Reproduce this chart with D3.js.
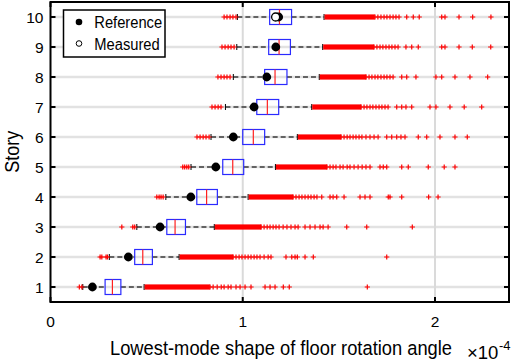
<!DOCTYPE html>
<html>
<head>
<meta charset="utf-8">
<script src="https://cdn.jsdelivr.net/npm/d3@7/dist/d3.min.js"></script>
<style>
html,body{margin:0;padding:0;background:#fff;}
svg{display:block;font-family:"Liberation Sans",Arial,sans-serif;}
</style>
</head>
<body>
<svg id="chart" width="517" height="363"></svg>
<script>
// ---- data (values in units of 1e-4) ----
const stories = [1, 2, 3, 4, 5, 6, 7, 8, 9, 10];
const q1      = [0.284, 0.438, 0.605, 0.761, 0.896, 1.000, 1.073, 1.114, 1.135, 1.140];
const medians = [0.322, 0.480, 0.648, 0.812, 0.948, 1.055, 1.128, 1.168, 1.189, 1.191];
const q3      = [0.366, 0.530, 0.702, 0.868, 1.005, 1.114, 1.187, 1.230, 1.248, 1.254];
const whiskerLow  = [0.168, 0.306, 0.449, 0.600, 0.731, 0.835, 0.910, 0.951, 0.969, 0.972];
const whiskerHigh = [0.487, 0.669, 0.852, 1.028, 1.170, 1.284, 1.359, 1.398, 1.416, 1.423];
// end of the solid band of overlapping outliers above the upper whisker
const denseEnd    = [0.813, 0.934, 1.081, 1.246, 1.423, 1.497, 1.601, 1.627, 1.667, 1.671];
const referenceValues = [0.218, 0.405, 0.570, 0.730, 0.860, 0.951, 1.059, 1.125, 1.172, 1.187];
const measuredStories = [10];
const measuredValues  = [1.171];
const lowOutliers = [
  [0.150, 0.163],
  [0.258, 0.267, 0.289, 0.296],
  [0.371, 0.428, 0.438],
  [0.553, 0.565, 0.575, 0.586],
  [0.688, 0.698, 0.709, 0.719],
  [0.762, 0.778, 0.794, 0.809, 0.825],
  [0.840, 0.856, 0.872, 0.887],
  [0.871, 0.887, 0.903, 0.918, 0.934],
  [0.892, 0.908, 0.924, 0.939, 0.955],
  [0.903, 0.918, 0.934, 0.949, 0.965]
];
const highOutliers = [
  [0.830, 0.846, 0.867, 0.888, 0.903, 0.924, 0.939, 0.965, 0.986, 1.012, 1.043, 1.116, 1.142, 1.168, 1.211, 1.242, 1.648],
  [0.950, 0.965, 0.981, 0.996, 1.012, 1.028, 1.043, 1.059, 1.074, 1.090, 1.111, 1.132, 1.147, 1.225, 1.255, 1.272, 1.284, 1.324, 1.367, 1.749],
  [1.095, 1.111, 1.127, 1.142, 1.158, 1.173, 1.189, 1.210, 1.230, 1.251, 1.272, 1.288, 1.324, 1.350, 1.376, 1.402, 1.418, 1.444, 1.541, 1.645, 1.882],
  [1.262, 1.277, 1.293, 1.308, 1.324, 1.340, 1.355, 1.371, 1.386, 1.411, 1.454, 1.470, 1.489, 1.527, 1.610, 1.636, 1.662, 1.757, 1.766, 1.827, 1.967, 2.016],
  [1.438, 1.454, 1.470, 1.485, 1.506, 1.522, 1.543, 1.558, 1.579, 1.600, 1.621, 1.641, 1.662, 1.714, 1.731, 1.749, 1.827, 1.861, 1.965, 2.048, 2.104],
  [1.511, 1.527, 1.543, 1.558, 1.574, 1.589, 1.605, 1.620, 1.641, 1.662, 1.683, 1.704, 1.749, 1.775, 1.801, 1.823, 1.844, 1.913, 1.957, 2.026, 2.104, 2.168],
  [1.615, 1.631, 1.646, 1.662, 1.677, 1.693, 1.709, 1.724, 1.740, 1.756, 1.801, 1.827, 1.849, 1.879, 1.974, 2.005, 2.078, 2.152, 2.243],
  [1.641, 1.657, 1.672, 1.688, 1.703, 1.719, 1.735, 1.750, 1.766, 1.782, 1.827, 1.853, 1.901, 2.005, 2.035, 2.104, 2.182, 2.274],
  [1.683, 1.698, 1.714, 1.729, 1.745, 1.761, 1.776, 1.792, 1.808, 1.849, 1.879, 1.913, 2.035, 2.052, 2.125, 2.194, 2.290],
  [1.688, 1.703, 1.719, 1.735, 1.750, 1.766, 1.782, 1.797, 1.813, 1.853, 1.887, 1.918, 2.035, 2.052, 2.125, 2.196, 2.291]
];
const xTicks = [0, 1, 2];
const xTickLabels = ["0", "1", "2"];
const xLabel = "Lowest-mode shape of floor rotation angle";
const xScaleBase = "\u00d710";
const xScaleExp = "-4";
const yLabel = "Story";
const legendLabels = ["Reference", "Measured"];

// ---- drawing ----
const svg = d3.select("#chart");
svg.append("rect").attr("width", 517).attr("height", 363).attr("fill", "#fff");

const x = d3.scaleLinear().domain([0, 2.385]).range([50.5, 509]);
const y = d3.scaleLinear().domain([0.5, 10.5]).range([302, 2]);
const [x0, x1] = x.range();
const [yb, yt] = y.range();
const halfBox = (y(0) - y(0.25));
const arm = 2.6;

const g = svg.append("g");

// grid
g.selectAll("line.hgrid").data(stories).join("line")
  .attr("x1", x0).attr("x2", x1)
  .attr("y1", d => y(d)).attr("y2", d => y(d))
  .attr("stroke", "#e2e2e2").attr("stroke-width", 2.5);
g.selectAll("line.vgrid").data(xTicks.filter(t => t > 0)).join("line")
  .attr("x1", d => x(d)).attr("x2", d => x(d))
  .attr("y1", yt).attr("y2", yb)
  .attr("stroke", "#dadada").attr("stroke-width", 2);

const rows = stories.map((s, i) => ({
  s, q1: q1[i], med: medians[i], q3: q3[i], lo: whiskerLow[i], hi: whiskerHigh[i],
  dense: denseEnd[i], ref: referenceValues[i], lowOut: lowOutliers[i], highOut: highOutliers[i]
}));

const row = g.selectAll("g.row").data(rows).join("g").attr("class", "row");

// whiskers (dashed)
row.append("line")
  .attr("x1", d => x(d.lo)).attr("x2", d => x(d.q1))
  .attr("y1", d => y(d.s)).attr("y2", d => y(d.s))
  .attr("stroke", "#3a3a3a").attr("stroke-width", 1.3).attr("stroke-dasharray", "5,3");
row.append("line")
  .attr("x1", d => x(d.q3)).attr("x2", d => x(d.hi))
  .attr("y1", d => y(d.s)).attr("y2", d => y(d.s))
  .attr("stroke", "#3a3a3a").attr("stroke-width", 1.3).attr("stroke-dasharray", "5,3");
// whisker caps
row.selectAll("line.cap").data(d => [d.lo, d.hi].map(v => ({v, s: d.s}))).join("line")
  .attr("x1", d => x(d.v)).attr("x2", d => x(d.v))
  .attr("y1", d => y(d.s) - 3).attr("y2", d => y(d.s) + 3)
  .attr("stroke", "#000").attr("stroke-width", 1);

// dense outlier band
row.append("rect")
  .attr("x", d => x(d.hi) + 0.5)
  .attr("width", d => x(d.dense) - x(d.hi) + arm)
  .attr("y", d => y(d.s) - arm).attr("height", 2 * arm)
  .attr("fill", "#ff0000");

// outlier crosses
const crossPath = (cx, cy) => `M${cx - arm},${cy}H${cx + arm}M${cx},${cy - arm}V${cy + arm}`;
row.selectAll("path.out").data(d => d.lowOut.concat(d.highOut).map(v => ({v, s: d.s}))).join("path")
  .attr("d", d => crossPath(x(d.v), y(d.s)))
  .attr("stroke", "#ff0000").attr("stroke-width", 1.2).attr("fill", "none");

// boxes
row.append("rect")
  .attr("x", d => x(d.q1)).attr("width", d => x(d.q3) - x(d.q1))
  .attr("y", d => y(d.s) - halfBox).attr("height", 2 * halfBox)
  .attr("fill", "none").attr("stroke", "#2a2aff").attr("stroke-width", 1.2);
row.append("line")
  .attr("x1", d => x(d.med)).attr("x2", d => x(d.med))
  .attr("y1", d => y(d.s) - halfBox).attr("y2", d => y(d.s) + halfBox)
  .attr("stroke", "#ff2020").attr("stroke-width", 1.2);

// reference dots
row.append("circle")
  .attr("cx", d => x(d.ref)).attr("cy", d => y(d.s)).attr("r", 4.4)
  .attr("fill", "#000");

// measured
g.selectAll("circle.meas").data(measuredStories.map((s, i) => ({s, v: measuredValues[i]}))).join("circle")
  .attr("cx", d => x(d.v)).attr("cy", d => y(d.s)).attr("r", 4)
  .attr("fill", "#fff").attr("stroke", "#000").attr("stroke-width", 1.3);

// frame
svg.append("rect")
  .attr("x", x0).attr("y", yt).attr("width", x1 - x0).attr("height", yb - yt)
  .attr("fill", "none").attr("stroke", "#000").attr("stroke-width", 2);

// ticks
const tk = svg.append("g").attr("stroke", "#000").attr("stroke-width", 2);
xTicks.forEach(t => {
  tk.append("line").attr("x1", x(t)).attr("x2", x(t)).attr("y1", yb).attr("y2", yb - 5);
  tk.append("line").attr("x1", x(t)).attr("x2", x(t)).attr("y1", yt).attr("y2", yt + 5);
});
stories.forEach(s => {
  tk.append("line").attr("x1", x0).attr("x2", x0 + 5).attr("y1", y(s)).attr("y2", y(s));
  tk.append("line").attr("x1", x1).attr("x2", x1 - 5).attr("y1", y(s)).attr("y2", y(s));
});

// tick labels
svg.selectAll("text.xt").data(xTicks).join("text")
  .attr("x", d => x(d)).attr("y", 327)
  .attr("text-anchor", "middle").attr("font-size", 15.5).attr("fill", "#000")
  .text((d, i) => xTickLabels[i]);
svg.selectAll("text.yt").data(stories).join("text")
  .attr("x", 43.5).attr("y", d => y(d) + 5.5)
  .attr("text-anchor", "end").attr("font-size", 15.5).attr("fill", "#000")
  .text(d => String(d));

// axis labels (horizontally condensed to match the narrow reference face)
svg.append("text")
  .attr("transform", "translate(110,354.5) scale(0.94,1)")
  .attr("font-size", 19.5).attr("fill", "#000").text(xLabel);
const mult = svg.append("text").attr("x", 467).attr("y", 358.5).attr("fill", "#000");
mult.append("tspan").attr("font-size", 18.5).text(xScaleBase);
mult.append("tspan").attr("font-size", 13).attr("dy", -9).attr("dx", 0.5).text(xScaleExp);
svg.append("text")
  .attr("transform", "translate(18.5,151.7) rotate(-90) scale(0.9,1)")
  .attr("text-anchor", "middle").attr("font-size", 20)
  .attr("fill", "#000").text(yLabel);

// legend
const lg = svg.append("g");
lg.append("rect").attr("x", 63.5).attr("y", 10).attr("width", 101.5).attr("height", 47)
  .attr("fill", "#fff").attr("stroke", "#000").attr("stroke-width", 1.5);
lg.append("circle").attr("cx", 79).attr("cy", 22).attr("r", 3.3).attr("fill", "#000");
lg.append("circle").attr("cx", 79).attr("cy", 43.5).attr("r", 2.8)
  .attr("fill", "#fff").attr("stroke", "#000").attr("stroke-width", 1);
lg.append("text").attr("transform", "translate(94.3,27.5) scale(0.92,1)").attr("font-size", 16)
  .text(legendLabels[0]);
lg.append("text").attr("transform", "translate(94.3,49.5) scale(0.92,1)").attr("font-size", 16)
  .text(legendLabels[1]);
</script>
</body>
</html>
